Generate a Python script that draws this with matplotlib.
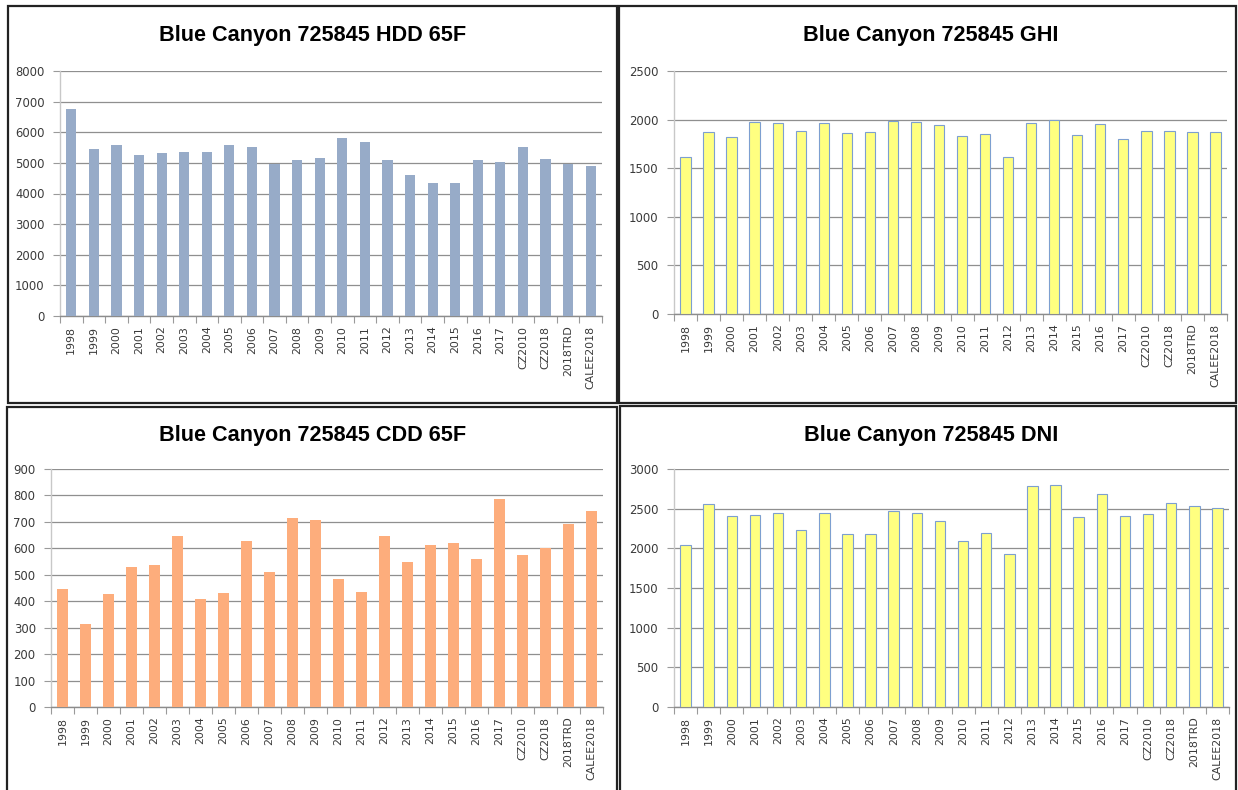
import matplotlib
matplotlib.use("Agg")
import matplotlib.pyplot as plt
from matplotlib.patches import Rectangle
import numpy as np

categories = ["1998", "1999", "2000", "2001", "2002", "2003", "2004", "2005", "2006",
              "2007", "2008", "2009", "2010", "2011", "2012", "2013", "2014", "2015",
              "2016", "2017", "CZ2010", "CZ2018", "2018TRD", "CALEE2018"]

hdd = [6750, 5460, 5600, 5250, 5320, 5370, 5340, 5600, 5530, 4970, 5080, 5160,
       5810, 5690, 5080, 4590, 4330, 4330, 5110, 5040, 5510, 5130, 4950, 4900]
ghi = [1615, 1870, 1820, 1975, 1970, 1885, 1970, 1860, 1870, 1985, 1975, 1940,
       1830, 1855, 1615, 1965, 2000, 1840, 1955, 1800, 1885, 1880, 1870, 1870]
cdd = [445, 312, 427, 530, 538, 648, 407, 432, 627, 510, 715, 707,
       485, 435, 645, 547, 613, 620, 560, 788, 575, 603, 693, 740]
dni = [2040, 2555, 2410, 2420, 2445, 2230, 2440, 2180, 2180, 2475, 2440, 2350,
       2090, 2195, 1925, 2780, 2800, 2395, 2690, 2410, 2430, 2570, 2535, 2505]

titles = ["Blue Canyon 725845 HDD 65F", "Blue Canyon 725845 GHI",
          "Blue Canyon 725845 CDD 65F", "Blue Canyon 725845 DNI"]

W, H = 1238, 790
fig = plt.figure(figsize=(W / 100, H / 100), dpi=100)
fig.patch.set_facecolor("white")


def px_rect(x0, y0, x1, y1):
    return [x0 / W, 1 - y1 / H, (x1 - x0) / W, (y1 - y0) / H]


def panel_border(x0, y0, x1, y1):
    r = Rectangle((x0 / W, 1 - y1 / H), (x1 - x0) / W, (y1 - y0) / H,
                  transform=fig.transFigure, fill=False, edgecolor="#222222",
                  linewidth=1.6)
    fig.add_artist(r)


panel_border(8, 6, 617, 403)
panel_border(619, 6, 1236, 403)
panel_border(7, 407, 617, 800)
panel_border(620, 406, 1236, 800)


def make_chart(rect, values, ymax, ystep, color, edge, title, title_xy):
    ax = fig.add_axes(px_rect(*rect))
    n = len(categories)
    x = np.arange(n)
    ax.bar(x, values, width=0.45, color=color, edgecolor=edge,
           linewidth=0.8 if edge != "none" else 0, zorder=3)
    ax.set_xlim(-0.5, n - 0.5)
    ax.set_ylim(0, ymax)
    ax.set_yticks(np.arange(0, ymax + 1, ystep))
    ax.set_xticks(x)
    ax.set_xticklabels(categories, rotation=90, fontsize=7.9, color="#3a3a3a",
                       family="DejaVu Sans")
    ax.set_xticks(np.arange(-0.5, n, 1.0), minor=True)
    ax.tick_params(axis="x", which="major", length=0, pad=7)
    ax.tick_params(axis="x", which="minor", length=5, color="#9a9a9a", width=0.8)
    ax.tick_params(axis="y", length=5, color="#9a9a9a", width=0.8, pad=6,
                   labelsize=8.4, labelcolor="#3a3a3a")
    ax.grid(axis="y", color="#8f8f8f", linewidth=0.9, zorder=0)
    ax.set_axisbelow(True)
    for s in ["top", "right"]:
        ax.spines[s].set_visible(False)
    ax.spines["left"].set_color("#c8c8c8")
    ax.spines["bottom"].set_color("#8c8c8c")
    ax.spines["left"].set_linewidth(1.0)
    ax.spines["bottom"].set_linewidth(1.0)
    ax.set_facecolor("white")
    fig.text(title_xy[0] / W, 1 - title_xy[1] / H, title, ha="center", va="center",
             fontsize=15.6, fontweight="bold", family="Liberation Sans",
             color="black")
    return ax


make_chart((60, 71, 602, 316), hdd, 8000, 1000, "#97abc8", "none", titles[0], (313, 36))
make_chart((674, 71, 1227, 314), ghi, 2500, 500, "#ffff80", "#7d9fd0", titles[1], (931, 36))
make_chart((51, 469, 603, 707), cdd, 900, 100, "#fdad7c", "none", titles[2], (313, 435))
make_chart((674, 469, 1229, 707), dni, 3000, 500, "#ffff80", "#7d9fd0", titles[3], (931, 435))

fig.savefig("out.png", dpi=100)
